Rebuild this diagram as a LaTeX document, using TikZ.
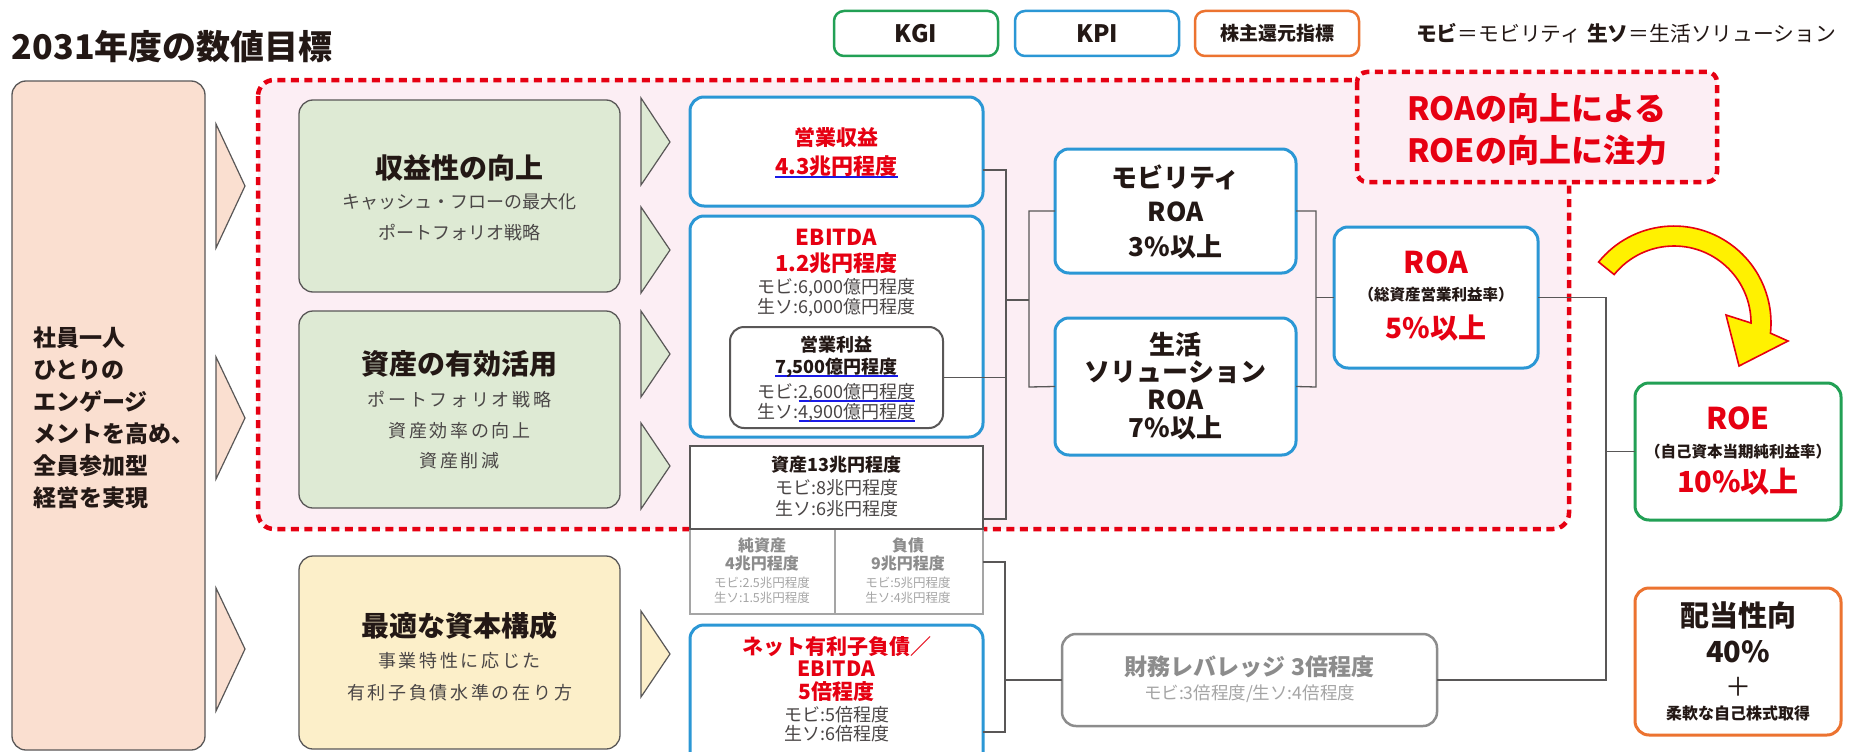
\documentclass[tikz,border=0pt]{standalone}
\usepackage{fontspec}
\setmainfont{Noto Sans CJK JP}
\newfontfamily\spaced[LetterSpace=15]{Noto Sans CJK JP}
\definecolor{pinkbg}{HTML}{FCEEF4}
\definecolor{redd}{HTML}{E60012}
\definecolor{kpiblue}{HTML}{2B97D5}
\definecolor{kgigreen}{HTML}{22A055}
\definecolor{shorange}{HTML}{EC7330}
\definecolor{peach}{HTML}{FADFD0}
\definecolor{greenfill}{HTML}{DEEAD4}
\definecolor{yellowfill}{HTML}{FCEFC9}
\definecolor{darktext}{HTML}{231815}
\definecolor{subgray}{HTML}{4A4646}
\definecolor{linegray}{HTML}{595757}
\definecolor{midgray}{HTML}{8C8C8C}
\definecolor{lightgray}{HTML}{A5A5A5}
\definecolor{arrowyellow}{HTML}{FFF100}
\definecolor{ulblue}{HTML}{1A1AE6}
\newcommand\fsz[1]{\fontsize{#1pt}{#1pt}\selectfont}
\newlength\ulw
\newcommand\bul[1]{\settowidth\ulw{#1}\rlap{\textcolor{ulblue}{\rule[-3pt]{\ulw}{1.6pt}}}#1}
\begin{document}
\begin{tikzpicture}[x=1pt,y=-1pt,
  every node/.style={inner sep=0pt, outer sep=0pt},
  bluebox/.style={rectangle, draw=kpiblue, line width=3pt, rounded corners=14pt, fill=white},
  greenbox/.style={rectangle, draw=linegray, line width=1.3pt, rounded corners=14pt, fill=greenfill},
  yellowbox/.style={rectangle, draw=linegray, line width=1.3pt, rounded corners=14pt, fill=yellowfill},
  tri/.style={draw=linegray, line width=1.2pt, line join=miter},
  conn/.style={draw=linegray, line width=1.3pt},
  reddash/.style={draw=redd, line width=4.5pt, dash pattern=on 8pt off 5.5pt, fill=pinkbg},
  legbox/.style={rectangle, line width=2.5pt, rounded corners=10pt, fill=white, minimum width=164pt, minimum height=45pt, text=darktext},
  redt/.style={text=redd, font=\bfseries\fsz{22}},
  grayt/.style={text=subgray, font=\fsz{18}},
  blackb/.style={text=darktext, font=\bfseries\fsz{26}},
]
\clip (0,0) rectangle (1852,752);
\fill[white] (0,0) rectangle (1852,752);

% title and legend
\node[anchor=west, text=darktext, font=\bfseries\fsz{34}] (title) at (12,47) {2031年度の数値目標};
\node[legbox, draw=kgigreen, font=\bfseries\fsz{24}] (kgi) at (916,33.5) {KGI};
\node[legbox, draw=kpiblue, font=\bfseries\fsz{24}] (kpi) at (1097,33.5) {KPI};
\node[legbox, draw=shorange, font=\bfseries\fsz{19}] (shr) at (1277,33.5) {株主還元指標};
\node[anchor=west, text=darktext, font=\fsz{20.8}] (leg) at (1416,33) {{\bfseries モビ}＝モビリティ\hspace{6pt}{\bfseries 生ソ}＝生活ソリューション};

% dashed focus region and note
\draw[reddash, rounded corners=16pt] (258,80) rectangle (1569,529);

% left box
\node[rectangle, draw=linegray, line width=1.3pt, rounded corners=14pt, fill=peach, minimum width=193pt, minimum height=669pt] (emp) at (108.5,415.5) {};
\node[anchor=west, align=left, text=darktext, font=\bfseries\fontsize{23pt}{32pt}\selectfont] (empt) at (33,418) {社員一人\\ひとりの\\エンゲージ\\メントを高め、\\全員参加型\\経営を実現};

% big triangles
\draw[tri, fill=peach] (216,124) -- (245,186) -- (216,248) -- cycle;
\draw[tri, fill=peach] (216,357) -- (245,418) -- (216,479) -- cycle;
\draw[tri, fill=peach] (216,588) -- (245,649) -- (216,711) -- cycle;

% strategy boxes
\node[greenbox, minimum width=321pt, minimum height=192pt] (g1) at (459.5,196) {};
\node[text=darktext, font=\bfseries\fsz{28}] (g1a) at (459.5,168) {収益性の向上};
\node[text=subgray, font=\fsz{18}] (g1b) at (459.5,202) {キャッシュ・フローの最大化};
\node[text=subgray, font=\fsz{18}] (g1c) at (459.5,233) {ポートフォリオ戦略};

\node[greenbox, minimum width=321pt, minimum height=197pt] (g2) at (459.5,409.5) {};
\node[text=darktext, font=\bfseries\fsz{28}] (g2a) at (459.5,364) {資産の有効活用};
\node[text=subgray, font=\spaced\fsz{18}] (g2b) at (459.5,400) {ポートフォリオ戦略};
\node[text=subgray, font=\spaced\fsz{18}] (g2c) at (459.5,431) {資産効率の向上};
\node[text=subgray, font=\spaced\fsz{18}] (g2d) at (459.5,461) {資産削減};

\node[yellowbox, minimum width=321pt, minimum height=193pt] (g3) at (459.5,652.5) {};
\node[text=darktext, font=\bfseries\fsz{28}] (g3a) at (459.5,626) {最適な資本構成};
\node[text=subgray, font=\spaced\fsz{18}] (g3b) at (459.5,661) {事業特性に応じた};
\node[text=subgray, font=\spaced\fsz{18}] (g3c) at (459.5,693) {有利子負債水準の在り方};

% small triangles
\draw[tri, fill=greenfill] (641,98) -- (670,142) -- (641,185) -- cycle;
\draw[tri, fill=greenfill] (641,207) -- (670,250) -- (641,293) -- cycle;
\draw[tri, fill=greenfill] (641,311) -- (670,354) -- (641,397) -- cycle;
\draw[tri, fill=greenfill] (641,423) -- (670,466) -- (641,509) -- cycle;
\draw[tri, fill=yellowfill] (641,611) -- (670,654) -- (641,697) -- cycle;

% connector junctions
\coordinate (ja) at (1006,170);
\coordinate (jb) at (1006,519);
\coordinate (jc) at (1006,300);
\coordinate (jd) at (1029,211);
\coordinate (je) at (1029,387);
\coordinate (jf) at (1029,300);
\coordinate (jg) at (1316,211);
\coordinate (jh) at (1316,387);
\coordinate (ji) at (1316,297.5);
\coordinate (jj) at (1606,297.5);
\coordinate (jk) at (1606,680);
\coordinate (jl) at (1606,451.5);
\coordinate (jm) at (1005,562);
\coordinate (jn) at (1005,732);
\coordinate (jo) at (1005,680);

% KPI boxes
\node[bluebox, minimum width=293pt, minimum height=109pt] (rev) at (836.5,151.5) {};
\node[redt, font=\bfseries\fsz{21}] (reva) at (836.5,137) {営業収益};
\node[redt] (revb) at (836.5,167) {\bul{4.3兆円程度}};

\node[bluebox, minimum width=293pt, minimum height=221pt] (ebd) at (836.5,326.5) {};
\node[redt] (ebda) at (836.5,237) {EBITDA};
\node[redt] (ebdb) at (836.5,263) {1.2兆円程度};
\node[grayt] (ebdc) at (836.5,288) {モビ:6,000億円程度};
\node[grayt] (ebdd) at (836.5,308) {生ソ:6,000億円程度};

\node[rectangle, draw=linegray, line width=2pt, rounded corners=14pt, fill=white, minimum width=213pt, minimum height=101pt] (op) at (836.5,377.5) {};
\node[text=darktext, font=\bfseries\fsz{18}] (opa) at (836.5,345) {営業利益};
\node[text=darktext, font=\bfseries\fsz{18}] (opb) at (836.5,368) {\bul{7,500億円程度}};
\node[grayt] (opc) at (836.5,393) {モビ:\bul{2,600億円程度}};
\node[grayt] (opd) at (836.5,413) {生ソ:\bul{4,900億円程度}};

\node[rectangle, draw=lightgray, line width=1.5pt, fill=white, minimum width=145pt, minimum height=85pt] (eq) at (762.5,571.5) {};
\node[rectangle, draw=lightgray, line width=1.5pt, fill=white, minimum width=148pt, minimum height=85pt] (debt) at (909,571.5) {};
\node[rectangle, draw=linegray, line width=1.5pt, fill=white, minimum width=293pt, minimum height=83pt] (ast) at (836.5,487.5) {};
\node[text=darktext, font=\bfseries\fsz{18}] (asta) at (836.5,465) {資産13兆円程度};
\node[grayt] (astb) at (836.5,488) {モビ:8兆円程度};
\node[grayt] (astc) at (836.5,509) {生ソ:6兆円程度};
\node[text=midgray, font=\bfseries\fsz{16}] (eqa) at (762,545) {純資産};
\node[text=midgray, font=\bfseries\fsz{16}] (eqb) at (762,563) {4兆円程度};
\node[text=lightgray, font=\fsz{12.5}] (eqc) at (762,583) {モビ:2.5兆円程度};
\node[text=lightgray, font=\fsz{12.5}] (eqd) at (762,598) {生ソ:1.5兆円程度};
\node[text=midgray, font=\bfseries\fsz{16}] (dba) at (908,545) {負債};
\node[text=midgray, font=\bfseries\fsz{16}] (dbb) at (908,563) {9兆円程度};
\node[text=lightgray, font=\fsz{12.5}] (dbc) at (908,583) {モビ:5兆円程度};
\node[text=lightgray, font=\fsz{12.5}] (dbd) at (908,598) {生ソ:4兆円程度};

\node[bluebox, minimum width=293pt, minimum height=150pt] (net) at (836.5,700) {};
\node[redt, font=\bfseries\fsz{21}] (neta) at (836.5,647) {ネット有利子負債／};
\node[redt, font=\bfseries\fsz{21}] (netb) at (836.5,669) {EBITDA};
\node[redt, font=\bfseries\fsz{21}] (netc) at (836.5,692) {5倍程度};
\node[grayt] (netd) at (836.5,715) {モビ:5倍程度};
\node[grayt] (nete) at (836.5,734) {生ソ:6倍程度};

% ROA boxes
\node[bluebox, minimum width=241pt, minimum height=124pt] (mob) at (1175.5,211) {};
\node[blackb] (moba) at (1175.5,177) {モビリティ};
\node[blackb] (mobb) at (1175.5,212) {ROA};
\node[blackb] (mobc) at (1175.5,247) {3\%以上};

\node[bluebox, minimum width=241pt, minimum height=137pt] (liv) at (1175.5,386.5) {};
\node[blackb] (liva) at (1175.5,345) {生活};
\node[blackb] (livb) at (1175.5,372) {ソリューション};
\node[blackb] (livc) at (1175.5,400) {ROA};
\node[blackb] (livd) at (1175.5,428) {7\%以上};

\node[bluebox, minimum width=204pt, minimum height=141pt] (roa) at (1436,297.5) {};
\node[text=redd, font=\bfseries\fsz{30}] (roaa) at (1436,262) {ROA};
\node[text=darktext, font=\bfseries\fsz{15.5}] (roab) at (1436,295) {（総資産営業利益率）};
\node[text=redd, font=\bfseries\fsz{28}] (roac) at (1436,328) {5\%以上};

% note box
\draw[reddash, rounded corners=10pt] (1357,72) rectangle (1717,182);
\node[text=redd, font=\bfseries\fsz{32}] (notea) at (1537,108) {ROAの向上による};
\node[text=redd, font=\bfseries\fsz{32}] (noteb) at (1537,150) {ROEの向上に注力};

% leverage
\node[rectangle, draw=midgray, line width=2.5pt, rounded corners=14pt, fill=white, minimum width=375pt, minimum height=92pt] (fin) at (1249.5,680) {};
\node[text=midgray, font=\bfseries\fsz{23}] (fina) at (1249.5,667) {財務レバレッジ 3倍程度};
\node[text=lightgray, font=\fsz{17.5}] (finb) at (1249.5,694) {モビ:3倍程度/生ソ:4倍程度};

% ROE and payout
\node[rectangle, draw=kgigreen, line width=3pt, rounded corners=14pt, fill=white, minimum width=206pt, minimum height=137pt] (roe) at (1738,451.5) {};
\node[text=redd, font=\bfseries\fsz{30}] (roea) at (1738,418) {ROE};
\node[text=darktext, font=\bfseries\fsz{15.5}] (roeb) at (1738,452) {（自己資本当期純利益率）};
\node[text=redd, font=\bfseries\fsz{29}] (roec) at (1738,482) {10\%以上};

\node[rectangle, draw=shorange, line width=3pt, rounded corners=14pt, fill=white, minimum width=206pt, minimum height=147pt] (pay) at (1738,661.5) {};
\node[text=darktext, font=\bfseries\fsz{29}] (paya) at (1738,615) {配当性向};
\node[text=darktext, font=\bfseries\fsz{29}] (payb) at (1738,652) {40\%};
\node[text=darktext, font=\fsz{26}] (payc) at (1738,687) {＋};
\node[text=darktext, font=\bfseries\fsz{16}] (payd) at (1738,713) {柔軟な自己株式取得};

% connectors
\draw[conn] (rev.east |- ja) -- (ja) -- (jb) -- (ast.east |- jb);
\draw[conn] (op.east) -- (op.east -| ja);
\draw[conn] (jc) -- (jf);
\draw[conn] (mob.west) -- (jd) -- (je) -- (liv.west);
\draw[conn] (mob.east) -- (jg) -- (jh) -- (liv.east);
\draw[conn] (ji) -- (roa.west);
\draw[conn] (roa.east) -- (jj) -- (jk) -- (fin.east);
\draw[conn] (jl) -- (roe.west);
\draw[conn] (debt.east |- jm) -- (jm) -- (jn) -- (net.east |- jn);
\draw[conn] (jo) -- (fin.west);

% curved arrow
\filldraw[fill=arrowyellow, draw=redd, line width=1.6pt, line join=miter]
  (1598.6,262) arc[start angle=219, end angle=366, radius=97]
  -- (1788,341) -- (1739,366) -- (1726,315) -- (1751,323)
  arc[start angle=360, end angle=219, radius=77] -- cycle;
\end{tikzpicture}
\end{document}
